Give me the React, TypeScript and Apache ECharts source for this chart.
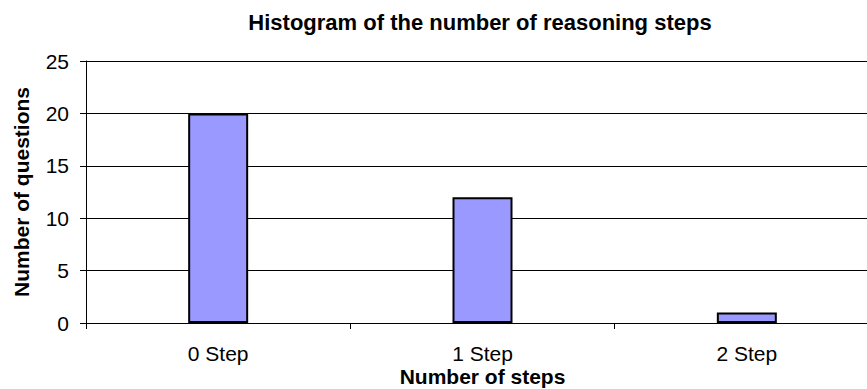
import React, { useEffect, useRef } from "react";
import * as echarts from "echarts";

const categories = ["0 Step", "1 Step", "2 Step"];
const questionCounts = [20, 12, 1];
const yTicks = [0, 5, 10, 15, 20, 25];

export default function App() {
  const ref = useRef<HTMLDivElement>(null);
  useEffect(() => {
    const chart = echarts.init(ref.current!, null, { renderer: "svg" });
    const font = "'Liberation Sans', Arial, sans-serif";
    chart.setOption({
      animation: false,
      backgroundColor: "#ffffff",
      title: {
        text: "Histogram of the number of reasoning steps",
        left: 475,
        top: 6,
        textAlign: "center",
        textStyle: { fontFamily: font, fontSize: 22, fontWeight: "bold", color: "#000" },
      },
      grid: { left: 86, top: 61, width: 793, height: 262, outerBoundsMode: "none", containLabel: false },
      xAxis: {
        type: "category",
        data: categories,
        name: "Number of steps",
        nameLocation: "middle",
        nameGap: 43,
        nameMoveOverlap: false,
        nameTextStyle: { fontFamily: font, fontSize: 21, fontWeight: "bold", color: "#000", lineHeight: 21 },
        axisLine: { lineStyle: { color: "#000", width: 1 } },
        axisTick: { show: true, inside: false, length: 6, alignWithLabel: false, lineStyle: { color: "#000" } },
        axisLabel: { fontFamily: font, fontSize: 21, color: "#000", margin: 20 },
        splitLine: { show: false },
      },
      yAxis: {
        type: "value",
        min: yTicks[0],
        max: yTicks[yTicks.length - 1],
        interval: 5,
        name: "Number of questions",
        nameLocation: "middle",
        nameGap: 54,
        nameMoveOverlap: false,
        nameTextStyle: { fontFamily: font, fontSize: 21, fontWeight: "bold", color: "#000" },
        axisLine: { show: true, lineStyle: { color: "#000", width: 1 } },
        axisTick: { show: true, inside: false, length: 6, lineStyle: { color: "#000" } },
        axisLabel: { fontFamily: font, fontSize: 21, color: "#000", margin: 17 },
        splitLine: { show: true, lineStyle: { color: "#000", width: 1 } },
      },
      series: [
        {
          type: "bar",
          data: questionCounts,
          barWidth: 60,
          itemStyle: { color: "#9999FF", borderColor: "#000", borderWidth: 2 },
        },
      ],
    });
    return () => chart.dispose();
  }, []);
  return (
    <div
      style={{ position: "absolute", left: 0, top: 0, width: 867, height: 389, overflow: "hidden" }}
    >
      <div ref={ref} style={{ width: 880, height: 389 }} />
    </div>
  );
}
